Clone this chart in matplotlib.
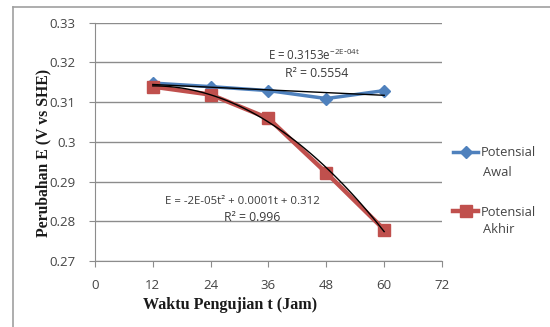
import matplotlib
matplotlib.use("Agg")
import matplotlib.pyplot as plt
import numpy as np

# data
waktu = [12, 24, 36, 48, 60]
potensial_awal = [0.3148, 0.3139, 0.3129, 0.3109, 0.3129]
potensial_akhir = [0.3139, 0.3119, 0.3059, 0.2922, 0.2779]
x_ticks = [0, 12, 24, 36, 48, 60, 72]
y_ticks = [0.27, 0.28, 0.29, 0.30, 0.31, 0.32, 0.33]
y_tick_labels = ["0.27", "0.28", "0.29", "0.3", "0.31", "0.32", "0.33"]

BLUE = "#4F81BD"
RED = "#C0504D"
GRID = "#8C8C8C"
TXT = "#3a3a3a"
TICK_FONT = "Open Sans"

fig = plt.figure(figsize=(5.5, 3.27), dpi=100)
ax = fig.add_axes([0.1727, 0.2018, 0.6309, 0.7288])

# outer chart frame (only left and top edges visible in the reference)
fig.add_artist(plt.Line2D([0.024, 0.024], [0.0, 0.978], color="#A0A0A0", lw=1.2))
fig.add_artist(plt.Line2D([0.024, 1.0], [0.978, 0.978], color="#A0A0A0", lw=1.2))

ax.plot(waktu, potensial_awal, color=BLUE, lw=2.5, marker="D", ms=6,
        label="Potensial", zorder=3)
ax.plot(waktu, potensial_akhir, color=RED, lw=3.2, marker="s", ms=8,
        label="Potensial", zorder=3)

# trendlines (exponential for awal, 2nd order polynomial for akhir)
t = np.linspace(waktu[0], waktu[-1], 100)
b, ln_a = np.polyfit(waktu, np.log(potensial_awal), 1)
ax.plot(t, np.exp(ln_a) * np.exp(b * t), color="black", lw=1.0, zorder=4)
coef = np.polyfit(waktu, potensial_akhir, 2)
ax.plot(t, np.polyval(coef, t), color="black", lw=1.0, zorder=4)

ax.text(36.0, 0.3218, r"E = 0.3153e$^{\mathregular{-2E\text{-}04t}}$", fontsize=8.3,
        family=TICK_FONT, color=TXT, va="center")
ax.text(45.9, 0.3172, "R² = 0.5554", fontsize=8.8, family=TICK_FONT,
        color=TXT, va="center", ha="center")
ax.text(14.5, 0.2849, "E = -2E-05t² + 0.0001t + 0.312", fontsize=8.2,
        family=TICK_FONT, color=TXT, va="center")
ax.text(32.7, 0.2809, "R² = 0.996", fontsize=8.8, family=TICK_FONT,
        color=TXT, va="center", ha="center")

ax.set_xlim(0, 72)
ax.set_ylim(0.27, 0.33)
ax.set_xticks(x_ticks)
ax.set_yticks(y_ticks)
ax.set_yticklabels(y_tick_labels)
ax.grid(axis="y", color=GRID, lw=1.0)
ax.set_axisbelow(True)
for side in ["top", "right"]:
    ax.spines[side].set_visible(False)
for side in ["left", "bottom"]:
    ax.spines[side].set_color(GRID)
ax.tick_params(axis="both", colors=GRID, direction="out", length=4,
               labelsize=9.5, labelcolor="#444444")
ax.tick_params(axis="y", pad=10)
ax.tick_params(axis="x", pad=9)
for lbl in ax.get_xticklabels() + ax.get_yticklabels():
    lbl.set_family(TICK_FONT)

ax.set_xlabel("Waktu Pengujian t (Jam)", family="Liberation Serif",
              fontweight="bold", fontsize=11.6, color="#1a1a1a")
ax.xaxis.set_label_coords(0.389, -0.15)
ax.set_ylabel("Perubahan E (V vs SHE)", family="Liberation Serif",
              fontweight="bold", fontsize=11.3, color="#1a1a1a")
ax.yaxis.set_label_coords(-0.127, 0.453)

# legend: first line of each label next to its handle, second line below
fig.legend(loc="upper left", bbox_to_anchor=(0.823, 0.553), frameon=False,
           prop={"family": TICK_FONT, "size": 9.3}, labelcolor="#444444",
           handlelength=2.0, handletextpad=0.2, labelspacing=3.6,
           borderaxespad=0, borderpad=0)
fig.text(0.879, 0.474, "Awal", family=TICK_FONT, size=9.3, color="#444444",
         va="center")
fig.text(0.879, 0.297, "Akhir", family=TICK_FONT, size=9.3, color="#444444",
         va="center")

fig.savefig("out.png", dpi=100)
